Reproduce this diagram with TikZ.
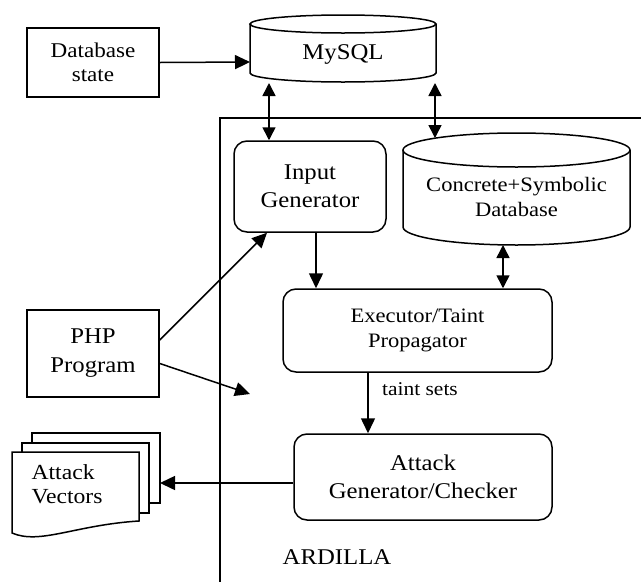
\documentclass[tikz,border=0pt]{standalone}
\usepackage{fontspec}
\setmainfont[FakeStretch=1.1]{Liberation Serif}
\usetikzlibrary{arrows.meta}
\begin{document}
\begin{tikzpicture}[x=1pt,y=-1pt,line width=1.5pt,
  arr/.style={-{Triangle[length=15pt,width=14pt]}},
  darr/.style={{Triangle[length=13pt,width=13pt]}-{Triangle[length=13pt,width=13pt]}},
  sqbox/.style={draw,align=center,inner sep=0pt},
  rbox/.style={draw,rounded corners=13pt,align=center,inner sep=0pt},
  bigtxt/.style={font=\fontsize{22.5}{28}\selectfont},
  smalltxt/.style={font=\fontsize{20.5}{25}\selectfont}]
\useasboundingbox (0,0) rectangle (641,582);

% ARDILLA frame
\draw (641,118) -- (220,118) -- (220,582);
\node[bigtxt] (ardilla) at (337,557) {ARDILLA};

% Database state
\node[sqbox,font=\fontsize{21}{24}\selectfont,minimum width=132pt,minimum height=69pt] (db) at (93,62.5) {Database\\state};

% MySQL cylinder
\draw (343,24) ellipse [x radius=93pt,y radius=9pt];
\draw (250,24) -- (250,73) arc[start angle=180,end angle=360,x radius=93pt,y radius=9pt] -- (436,24);
\node[bigtxt] (mysql) at (343,54) {MySQL};
\coordinate (mysqlW) at (250,62);
\coordinate (myA) at (269,83);
\coordinate (myB) at (435,83);

% Input Generator
\node[rbox,bigtxt,minimum width=152pt,minimum height=91pt] (input) at (310,186.5) {Input\\Generator};

% Concrete+Symbolic cylinder
\draw (516.5,150) ellipse [x radius=113.5pt,y radius=17pt];
\draw (403,150) -- (403,227) arc[start angle=180,end angle=360,x radius=113.5pt,y radius=18pt] -- (630,150);
\node[smalltxt,align=center] (conc) at (516.5,197) {Concrete+Symbolic\\Database};
\coordinate (concTop) at (435,138);
\coordinate (concBot) at (503,245);

% Executor
\node[rbox,smalltxt,minimum width=269pt,minimum height=83pt] (exec) at (417.5,330.5) {Executor/Taint\\Propagator};

% Attack generator
\node[rbox,bigtxt,minimum width=258pt,minimum height=86pt] (attack) at (423,477) {Attack\\Generator/Checker};

% PHP Program
\node[sqbox,font=\fontsize{22.5}{29}\selectfont,minimum width=132pt,minimum height=87pt] (php) at (93,353.5) {PHP\\Program};
\coordinate (phpfree) at (250,394);

% Attack vectors stack
\draw (32,443) -- (32,433) -- (160,433) -- (160,503) -- (149,503);
\draw (22,452) -- (22,443) -- (149,443) -- (149,513) -- (139,513);
\draw (12,533) -- (12,452) -- (139,452) -- (139,521)
      .. controls (75,525) and (40,545) .. (12,533) -- cycle;
\node[align=left,font=\fontsize{21.5}{24}\selectfont] (vec) at (67,484) {Attack\\Vectors};
\coordinate (vecR) at (160,483);

% taint sets label
\node[font=\fontsize{19.5}{24}\selectfont] (taint) at (420,389) {taint sets};

% connectors
\draw[arr] (db.east) -- (mysqlW);
\draw[darr] (myA) -- (myA |- input.north);
\draw[darr] (myB) -- (concTop);
\draw[darr] (concBot) -- (concBot |- exec.north);
\draw[arr] ([xshift=6pt]input.south) -- ([xshift=6pt]input.south |- exec.north);
\draw[arr] ([xshift=-49.5pt]exec.south) -- ([xshift=-49.5pt]exec.south |- attack.north);
\draw[arr] ([yshift=13.5pt]php.east) -- ([xshift=-43pt]input.south);
\draw[arr] ([yshift=-10pt]php.east) -- (phpfree);
\draw[arr] ([yshift=-6pt]attack.west) -- (vecR);
\end{tikzpicture}
\end{document}
